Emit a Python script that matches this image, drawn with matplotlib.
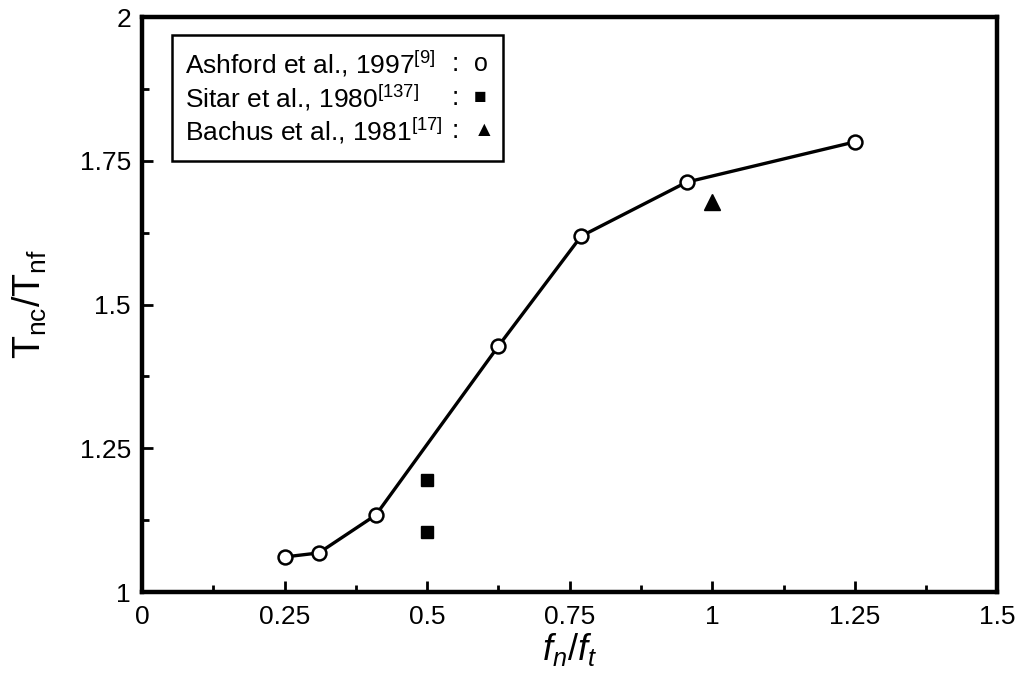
import matplotlib

matplotlib.use("Agg")
import matplotlib.pyplot as plt
from matplotlib.patches import Rectangle
from matplotlib.ticker import MultipleLocator

plt.rcParams["font.family"] = ["Liberation Sans", "DejaVu Sans"]
plt.rcParams["mathtext.fontset"] = "custom"
plt.rcParams["mathtext.rm"] = "Liberation Sans"
plt.rcParams["mathtext.it"] = "Liberation Sans:italic"

# Ashford et al., 1997 (line with open circles)
ashford_x = [0.25, 0.31, 0.41, 0.625, 0.77, 0.955, 1.25]
ashford_y = [1.061, 1.068, 1.134, 1.428, 1.619, 1.713, 1.783]
# Sitar et al., 1980 (filled squares)
sitar_x = [0.5, 0.5]
sitar_y = [1.195, 1.105]
# Bachus et al., 1981 (filled triangle)
bachus_x = [1.0]
bachus_y = [1.678]

xticks = [0, 0.25, 0.5, 0.75, 1, 1.25, 1.5]
xticklabels = ["0", "0.25", "0.5", "0.75", "1", "1.25", "1.5"]
yticks = [1, 1.25, 1.5, 1.75, 2]
yticklabels = ["1", "1.25", "1.5", "1.75", "2"]

legend_rows = [
    ("Ashford et al., 1997$^{[9]}$", "o"),
    ("Sitar et al., 1980$^{[137]}$", "\u25a0"),
    ("Bachus et al., 1981$^{[17]}$", "\u25b2"),
]

fig = plt.figure(figsize=(10.22, 6.86), dpi=100)
ax = fig.add_axes((0.139, 0.137, 0.837, 0.838))

ax.plot(ashford_x, ashford_y, color="black", lw=2.4, marker="o", ms=10,
        mfc="white", mec="black", mew=1.8, zorder=3)
ax.plot(sitar_x, sitar_y, ls="none", marker="s", ms=9, color="black")
ax.plot(bachus_x, bachus_y, ls="none", marker="^", ms=11, color="black")

ax.set_xlim(0, 1.5)
ax.set_ylim(1, 2)
ax.set_xticks(xticks)
ax.set_xticklabels(xticklabels)
ax.set_yticks(yticks)
ax.set_yticklabels(yticklabels)
ax.xaxis.set_minor_locator(MultipleLocator(0.125))
ax.yaxis.set_minor_locator(MultipleLocator(0.125))
ax.tick_params(which="both", direction="in", width=2, labelsize=19)
ax.tick_params(axis="x", pad=9)
ax.tick_params(axis="y", pad=8)
ax.tick_params(which="major", length=8)
ax.tick_params(which="minor", length=5)
for spine in ax.spines.values():
    spine.set_linewidth(3.2)

ax.set_xlabel("$f_n/f_t$", fontsize=26, labelpad=2)
ax.set_ylabel("T$_{\\mathrm{nc}}$/T$_{\\mathrm{nf}}$", fontsize=27, labelpad=22)

# legend box drawn by hand to keep the "text : symbol" layout
ax.add_patch(Rectangle((0.035, 0.75), 0.387, 0.219, transform=ax.transAxes,
                       fill=False, lw=1.8, ec="black", zorder=4))
for i, (label, sym) in enumerate(legend_rows):
    y = 0.918 - i * 0.058
    ax.text(0.05, y, label, transform=ax.transAxes, fontsize=19, va="center")
    ax.text(0.362, y, ":", transform=ax.transAxes, fontsize=19, va="center")
    ax.text(0.388, y, sym, transform=ax.transAxes, fontsize=18 if sym == "o" else 15,
            va="center")

fig.savefig("out.png", dpi=100)
